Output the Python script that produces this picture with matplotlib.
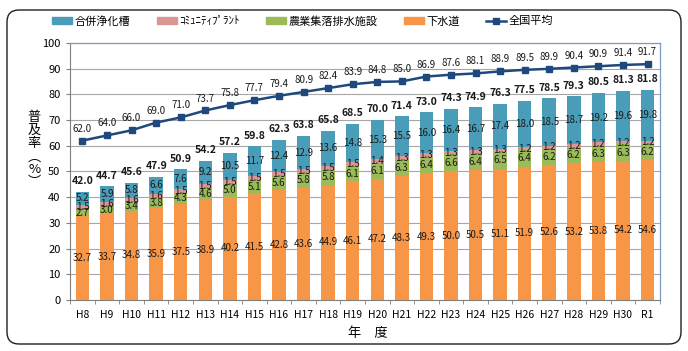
import matplotlib
matplotlib.use("Agg")
from matplotlib import pyplot as plt
from matplotlib.patches import FancyBboxPatch, Patch
from matplotlib.lines import Line2D
import numpy as np

plt.rcParams['font.family'] = ['Noto Sans CJK JP', 'DejaVu Sans']

years = ['H8', 'H9', 'H10', 'H11', 'H12', 'H13', 'H14', 'H15', 'H16', 'H17', 'H18', 'H19',
         'H20', 'H21', 'H22', 'H23', 'H24', 'H25', 'H26', 'H27', 'H28', 'H29', 'H30', 'R1']
sewer = [32.7, 33.7, 34.8, 35.9, 37.5, 38.9, 40.2, 41.5, 42.8, 43.6, 44.9, 46.1,
         47.2, 48.3, 49.3, 50.0, 50.5, 51.1, 51.9, 52.6, 53.2, 53.8, 54.2, 54.6]
agri = [2.7, 3.0, 3.4, 3.8, 4.3, 4.6, 5.0, 5.1, 5.6, 5.8, 5.8, 6.1,
        6.1, 6.3, 6.4, 6.6, 6.4, 6.5, 6.4, 6.2, 6.2, 6.3, 6.3, 6.2]
community = [1.5, 1.6, 1.6, 1.6, 1.5, 1.5, 1.5, 1.5, 1.5, 1.5, 1.5, 1.5,
             1.4, 1.3, 1.3, 1.3, 1.3, 1.3, 1.2, 1.2, 1.2, 1.2, 1.2, 1.2]
septic = [5.2, 5.9, 5.8, 6.6, 7.6, 9.2, 10.5, 11.7, 12.4, 12.9, 13.6, 14.8,
          15.3, 15.5, 16.0, 16.4, 16.7, 17.4, 18.0, 18.5, 18.7, 19.2, 19.6, 19.8]
totals = [42.0, 44.7, 45.6, 47.9, 50.9, 54.2, 57.2, 59.8, 62.3, 63.8, 65.8, 68.5,
          70.0, 71.4, 73.0, 74.3, 74.9, 76.3, 77.5, 78.5, 79.3, 80.5, 81.3, 81.8]
national = [62.0, 64.0, 66.0, 69.0, 71.0, 73.7, 75.8, 77.7, 79.4, 80.9, 82.4, 83.9,
            84.8, 85.0, 86.9, 87.6, 88.1, 88.9, 89.5, 89.9, 90.4, 90.9, 91.4, 91.7]

c_sewer = '#F79646'
c_agri = '#9BBB59'
c_comm = '#DA9694'
c_septic = '#4A9DB8'
c_line = '#1F497D'

fig = plt.figure(figsize=(6.88, 3.51), dpi=100)
ax = fig.add_axes([0.102, 0.145, 0.857, 0.733])

x = np.arange(len(years))
w = 0.55
layers = [(sewer, c_sewer), (agri, c_agri), (community, c_comm), (septic, c_septic)]
bottom = np.zeros(len(years))
for vals, col in layers:
    vals = np.array(vals)
    ax.bar(x, vals, w, bottom=bottom, color=col, zorder=2)
    for i in range(len(x)):
        ax.text(x[i], bottom[i] + vals[i] / 2, f'{vals[i]:.1f}', ha='center', va='center',
                fontsize=7, color='#1a1a1a', zorder=4)
    bottom = bottom + vals

tops = bottom
for i in range(len(x)):
    ax.annotate(f'{totals[i]:.1f}', (x[i], tops[i]), xytext=(0, 4), textcoords='offset points',
                ha='center', va='bottom', fontsize=7.5, fontweight='bold', color='#1a1a1a')

ax.plot(x, national, '-s', color=c_line, lw=1.8, ms=5, zorder=5)
for i in range(len(x)):
    ax.annotate(f'{national[i]:.1f}', (x[i], national[i]), xytext=(0, 5), textcoords='offset points',
                ha='center', va='bottom', fontsize=7, color='#1a1a1a')

ax.set_xlim(-0.5, len(years) - 0.5)
ax.set_ylim(0, 100)
ax.set_yticks(range(0, 101, 10))
ax.set_xticks(x)
ax.set_xticklabels(years, fontsize=7.5)
ax.set_xticks(np.arange(-0.5, len(years), 1), minor=True)
ax.tick_params(axis='x', which='major', length=0, pad=7)
ax.tick_params(axis='x', which='minor', length=3, color='#808080')
ax.tick_params(axis='y', labelsize=8, length=3, color='#808080', pad=4)
ax.yaxis.grid(True, color='#A6A6A6', lw=0.8, zorder=0)
ax.set_axisbelow(True)
for s in ['top', 'right']:
    ax.spines[s].set_color('#7F9CC0')
    ax.spines[s].set_linewidth(0.9)
for s in ['left', 'bottom']:
    ax.spines[s].set_color('#808080')
    ax.spines[s].set_linewidth(0.8)

fig.text(0.05, 0.572, '普\n及\n率\n︵\n%\n︶', ha='center', va='center', fontsize=9.5, linespacing=1.0)
fig.text(0.535, 0.05, '年　度', ha='center', va='center', fontsize=9.5)

handles = [Patch(color=c_septic), Patch(color=c_comm), Patch(color=c_agri), Patch(color=c_sewer),
           Line2D([], [], color=c_line, marker='s', ms=4, lw=1.8)]
labels = ['合併浄化槽', 'ｺﾐｭﾆﾃｨﾌﾟﾗﾝﾄ', '農業集落排水施設', '下水道', '全国平均']
fig.legend(handles, labels, loc='center', bbox_to_anchor=(0.44, 0.94), ncol=5, frameon=False,
           fontsize=8, handlelength=1.8, handleheight=0.6, handletextpad=0.2, columnspacing=2.4)

frame = FancyBboxPatch((0.07, 0.07), 6.74, 3.34, boxstyle='round,pad=0,rounding_size=0.12',
                       transform=fig.dpi_scale_trans, fill=False, ec='#202020', lw=1.0)
fig.patches.append(frame)

fig.savefig('out.png', dpi=100)
